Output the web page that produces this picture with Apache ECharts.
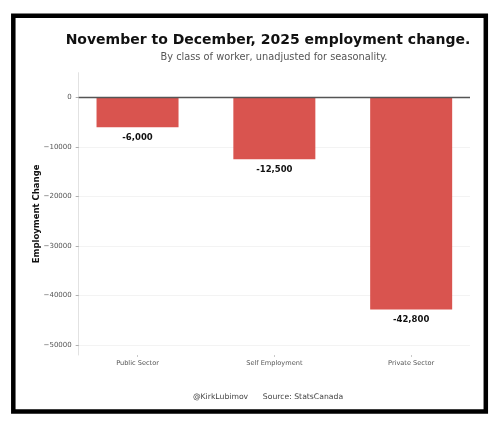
<!DOCTYPE html>
<html>
<head>
<meta charset="utf-8">
<script src="https://cdn.jsdelivr.net/npm/echarts@6/dist/echarts.min.js"></script>
<style>html,body{margin:0;padding:0;background:#fff;}#c{width:500px;height:427px;}</style>
</head>
<body>
<div id="c"></div>
<script>
const categories = ['Public Sector', 'Self Employment', 'Private Sector'];
const values = [-6000, -12500, -42800];
const yTicks = [0, -10000, -20000, -30000, -40000, -50000];
const xTicks = [0, 1, 2];

const font = '"DejaVu Sans", sans-serif';
const chart = echarts.init(document.getElementById('c'), null, {renderer: 'canvas'});
chart.setOption({
  backgroundColor: '#fff',
  animation: false,
  title: [
    {text: 'November to December, 2025 employment change.', left: 263, top: 28, textAlign: 'center',
     textStyle: {fontFamily: font, fontWeight: 'bold', fontSize: 14, color: '#111'}},
    {text: 'By class of worker, unadjusted for seasonality.', left: 269, top: 47, textAlign: 'center',
     textStyle: {fontFamily: font, fontWeight: 'normal', fontSize: 9.8, color: '#555'}},
    {text: '@KirkLubimov      Source: StatsCanada', left: 263, top: 388, textAlign: 'center',
     textStyle: {fontFamily: font, fontWeight: 'normal', fontSize: 7.7, color: '#444'}}
  ],
  grid: {left: 78.7, right: 30, top: 72.7, bottom: 72, containLabel: false},
  xAxis: {
    type: 'value', min: -0.43, max: 2.43,
    axisLine: {show: false, onZero: false},
    splitLine: {show: false},
    axisTick: {show: true, customValues: xTicks, length: 2, lineStyle: {color: '#bbb', width: 0.8}},
    axisLabel: {customValues: xTicks, formatter: v => categories[Math.round(v)], fontFamily: font, fontSize: 6.6, color: '#555', margin: 5}
  },
  yAxis: {
    type: 'value', min: -52000, max: 5000,
    name: 'Employment Change', nameLocation: 'middle', nameGap: 37, nameMoveOverlap: false,
    nameTextStyle: {fontFamily: font, fontWeight: 'bold', fontSize: 8.5, color: '#111'},
    axisLine: {show: true, onZero: false, lineStyle: {color: '#e2e2e2', width: 1}},
    axisTick: {show: true, customValues: yTicks, length: 3, lineStyle: {color: '#999', width: 0.8}},
    splitLine: {show: true, lineStyle: {color: '#f0f0f0', width: 0.8}},
    axisLabel: {customValues: yTicks, formatter: v => (v < 0 ? '\u2212' + Math.abs(v) : String(v)), fontFamily: font, fontSize: 7, color: '#555', margin: 7}
  },
  series: [{
    type: 'bar',
    data: values.map((v, i) => [i, v]),
    barWidth: 82,
    itemStyle: {color: '#d9544f'},
    label: {show: true, position: 'bottom', distance: 6, formatter: p => p.value[1].toLocaleString('en-US'),
            fontFamily: font, fontWeight: 'bold', fontSize: 8.5, color: '#111'},
    markLine: {silent: true, symbol: 'none', label: {show: false},
               lineStyle: {color: '#555', width: 1.3, type: 'solid'},
               data: [{yAxis: 0}]}
  }],
  graphic: [{type: 'rect', shape: {x: 13.3, y: 15.8, width: 472.5, height: 395.7},
             style: {fill: 'none', stroke: '#000', lineWidth: 4.5}, z: 100}]
});
</script>
</body>
</html>
